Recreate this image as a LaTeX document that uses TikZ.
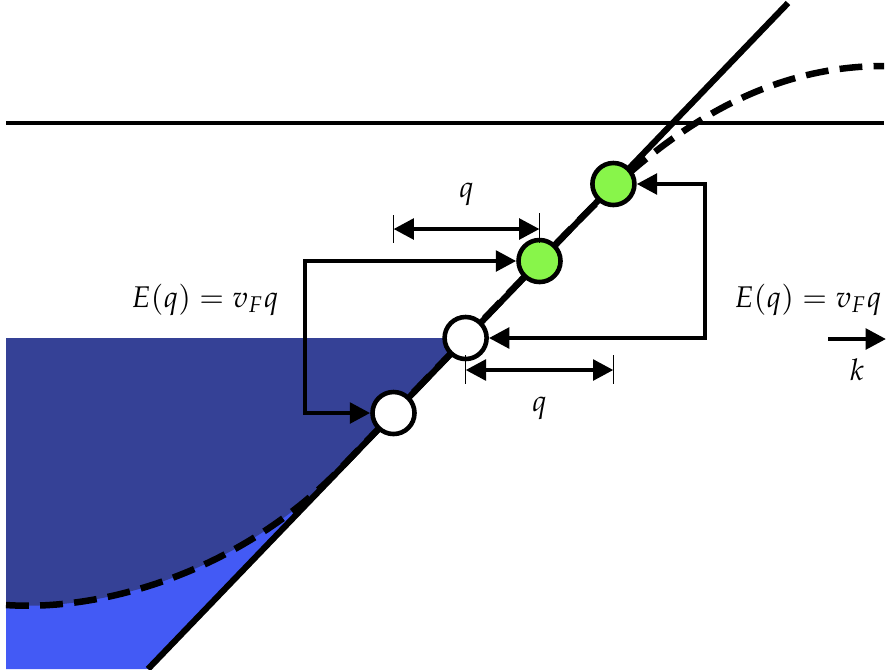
\documentclass[tikz,border=0pt]{standalone}
\usepackage{mathpazo}
\usetikzlibrary{arrows.meta}
\definecolor{seadark}{HTML}{354196}
\definecolor{seabright}{HTML}{435AF5}
\definecolor{partgreen}{HTML}{88F54A}
\tikzset{
  hole/.style={circle,draw=black,fill=white,line width=1.3pt,minimum size=0.42cm,inner sep=0pt},
  particle/.style={hole,fill=partgreen},
  jump/.style={line width=1.25pt,{Triangle[length=5.8pt,width=5.8pt]}-{Triangle[length=5.8pt,width=5.8pt]}},
  span/.style={jump},
  tick/.style={line width=0.5pt},
  lbl/.style={font=\fontsize{8.5}{10}\selectfont,inner sep=1pt}
}
\begin{document}
\begin{tikzpicture}[x=0.01cm,y=-0.01cm]
\useasboundingbox (0,0) rectangle (886,669);
% filled sea below the Fermi level
\fill[seabright] (6,338) -- (465.6,338) -- (148,669) -- (6,669) -- cycle;
\fill[seadark] (6,338) -- (465.6,338) -- (341.8,467) .. controls (245.8,567) and (110,612) .. (6,605) -- cycle;
% curved band and linearised band
\draw[line width=1.85pt,dash pattern=on 6.5pt off 3.2pt] (6,605) .. controls (110,612) and (245.8,567) .. (341.8,467) -- (559.7,240) .. controls (639.3,157) and (740,66) .. (884,66);
\draw[line width=1.75pt] (148,669) -- (788,3);
\draw[line width=0.9pt] (6,123) -- (884,123);
% states
\node[hole] (h1) at (393.5,413) {};
\node[hole] (h2) at (465.6,338) {};
\node[particle] (e1) at (539.5,261) {};
\node[particle] (e2) at (613.4,184) {};
\draw[jump] (h1.west) -- ++(-65,0) |- (e1.west);
\draw[jump] (h2.east) -- ++(216,0) |- (e2.east);
% momentum transfer q
\path (h1) ++(0,-184) coordinate (qa);
\path (e1) ++(0,-32) coordinate (qb);
\draw[tick] (qa) ++(0,-14) -- ++(0,28);
\draw[tick] (qb) ++(0,-16) -- ++(0,30);
\draw[span] (qa) -- (qb) node[midway,lbl,above=5pt] (qup) {$q$};
\path (h2) ++(0,32) coordinate (qc);
\path (e2) ++(0,186) coordinate (qd);
\draw[tick] (qc) ++(0,-15) -- ++(0,29);
\draw[tick] (qd) ++(0,-15) -- ++(0,29);
\draw[span] (qc) -- (qd) node[midway,lbl,below=6pt] (qdown) {$q$};
\node[lbl] (eleft) at (205,300) {$E(q)=v_Fq$};
\node[lbl] (eright) at (808,300) {$E(q)=v_Fq$};
\coordinate (ka) at (828,339);
\coordinate (kb) at (886,339);
\draw[line width=1.25pt,-{Triangle[length=5.8pt,width=5.8pt]}] (ka) -- (kb) node[midway,lbl,below=4pt] (klab) {$k$};
\end{tikzpicture}
\end{document}
